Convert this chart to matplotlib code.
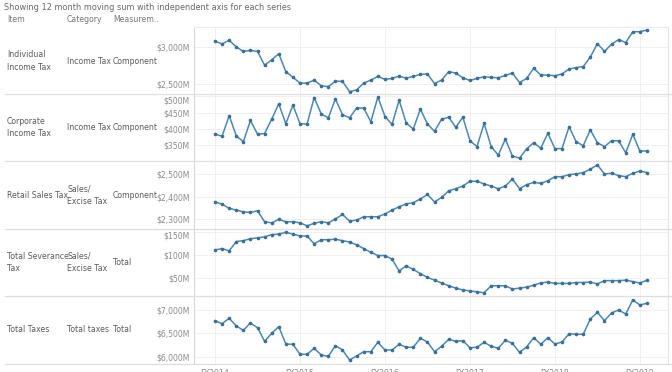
import matplotlib
matplotlib.use("Agg")
import matplotlib.pyplot as plt
from matplotlib.lines import Line2D
from matplotlib.ticker import FuncFormatter

# monthly points, FY2014 month 1 .. FY2019 month 2 (12 month moving sums, $M)
individual_income = [3083, 3046, 3097, 3005, 2944, 2958, 2944, 2754, 2829, 2912,
                     2667, 2590, 2510, 2510, 2551, 2472, 2463, 2537, 2533, 2393,
                     2417, 2510, 2551, 2602, 2560, 2574, 2606, 2577, 2602, 2630,
                     2634, 2504, 2551, 2667, 2648, 2583, 2546, 2574, 2597, 2588,
                     2583, 2616, 2648, 2518, 2574, 2713, 2620, 2620, 2611, 2634,
                     2704, 2722, 2736, 2866, 3051, 2944, 3042, 3106, 3065, 3213,
                     3213, 3236]
corporate_income = [384, 378, 441, 379, 361, 426, 384, 386, 430, 477,
                    416, 473, 416, 415, 496, 446, 434, 492, 444, 434,
                    464, 464, 422, 498, 438, 414, 488, 418, 400, 461,
                    415, 393, 430, 436, 405, 436, 364, 346, 417, 346,
                    320, 369, 317, 311, 339, 358, 341, 387, 340, 340,
                    407, 361, 349, 397, 358, 346, 364, 364, 327, 384,
                    332, 333]
retail_sales = [2377, 2367, 2349, 2341, 2333, 2331, 2338, 2290, 2285, 2300,
                2290, 2290, 2285, 2272, 2283, 2290, 2285, 2302, 2322, 2293,
                2297, 2312, 2312, 2312, 2324, 2341, 2356, 2368, 2374, 2390,
                2410, 2377, 2397, 2426, 2435, 2447, 2468, 2468, 2456, 2447,
                2435, 2447, 2478, 2435, 2453, 2463, 2459, 2470, 2488, 2488,
                2497, 2500, 2506, 2521, 2540, 2500, 2503, 2493, 2488, 2503,
                2513, 2506]
severance = [111, 114, 109, 129, 131, 135, 137, 139, 144, 145,
             149, 145, 141, 141, 124, 133, 133, 134, 131, 128,
             122, 114, 106, 99, 99, 91, 66, 77, 69, 60,
             52, 46, 40, 34, 29, 25, 23, 21, 19, 34,
             34, 34, 27, 29, 31, 35, 40, 42, 39, 39,
             39, 41, 41, 42, 38, 45, 45, 45, 46, 43,
             40, 46]
total_taxes = [6770, 6706, 6822, 6657, 6564, 6721, 6620, 6328, 6500, 6642,
               6270, 6264, 6049, 6049, 6178, 6034, 6006, 6234, 6142, 5927,
               6013, 6105, 6105, 6307, 6142, 6142, 6264, 6200, 6200, 6393,
               6313, 6105, 6221, 6371, 6328, 6341, 6191, 6200, 6307, 6221,
               6178, 6350, 6285, 6092, 6206, 6406, 6264, 6406, 6270, 6313,
               6491, 6479, 6479, 6807, 6951, 6770, 6936, 7000, 6914, 7215,
               7107, 7144]

items = ["Individual\nIncome Tax", "Corporate\nIncome Tax", "Retail Sales Tax",
         "Total Severance\nTax", "Total Taxes"]
categories = ["Income Tax", "Income Tax", "Sales/\nExcise Tax", "Sales/\nExcise Tax", "Total taxes"]
measures = ["Component", "Component", "Component", "Total", "Total"]
series = [individual_income, corporate_income, retail_sales, severance, total_taxes]
yticks = [[2500, 3000], [350, 400, 450, 500], [2300, 2400, 2500], [50, 100, 150],
          [6000, 6500, 7000]]
ylims = [(2361, 3264), (302, 507), (2258, 2557), (12, 156), (5841, 7300)]
year_labels = ["FY2014", "FY2015", "FY2016", "FY2017", "FY2018", "FY2019"]

W, H = 672, 372
fig = plt.figure(figsize=(W / 100, H / 100), dpi=100)
fig.patch.set_facecolor("white")

line_col = "#4a88b6"
grid_col = "#f0f0f0"
text_col = "#5a5a5a"
tick_col = "#8a8a8a"
fs = 5.6

fig.text(4 / W, 1 - 7 / H, "Showing 12 month moving sum with independent axis for each series",
         fontsize=5.9, color="#666666", va="center", ha="left")
for xp, t in [(7, "Item"), (67, "Category"), (113, "Measurem..")]:
    fig.text(xp / W, 1 - 20 / H, t, fontsize=fs, color="#777777", va="center", ha="left")

bounds = [28, 94, 161, 229, 296, 364]
left, right = 194, 668
fmt = FuncFormatter(lambda v, p: "${:,.0f}M".format(v))
x = list(range(len(total_taxes)))

for r in range(5):
    top, bot = bounds[r], bounds[r + 1]
    ax = fig.add_axes([left / W, 1 - bot / H, (right - left) / W, (bot - top) / H])
    ax.plot(x, series[r], color=line_col, lw=1.1, marker="o", ms=1.6,
            mfc="#3a6f96", mec="#3a6f96", zorder=3)
    ax.set_xlim(-2.97, 63.97)
    ax.set_ylim(*ylims[r])
    ax.set_yticks(yticks[r])
    ax.yaxis.set_major_formatter(fmt)
    ax.set_xticks([0, 12, 24, 36, 48, 60])
    ax.grid(True, color=grid_col, lw=0.7)
    ax.set_axisbelow(True)
    ax.tick_params(axis="y", length=0, labelsize=fs, labelcolor=tick_col, pad=3)
    ax.tick_params(axis="x", length=0, labelsize=fs, labelcolor=tick_col, pad=3.5)
    if r in (1, 3):
        # top label pushed inside the row, like the original
        ax.yaxis.get_major_ticks()[-1].label1.set_verticalalignment("top")
    if r == 4:
        ax.set_xticklabels(year_labels)
    else:
        ax.set_xticklabels([])
    for s in ["top", "bottom"]:
        ax.spines[s].set_visible(False)
    ax.spines["left"].set_color("#d6d6d6")
    ax.spines["right"].set_color("#e4e4e4")
    ax.spines["left"].set_linewidth(0.8)
    ax.spines["right"].set_linewidth(0.8)

    yc = 1 - (top + bot) / 2 / H
    fig.text(7 / W, yc, items[r], fontsize=fs, color=text_col, va="center", ha="left",
             linespacing=1.5)
    fig.text(67 / W, yc, categories[r], fontsize=fs, color=text_col, va="center", ha="left",
             linespacing=1.5)
    fig.text(113 / W, yc, measures[r], fontsize=fs, color=text_col, va="center", ha="left")

# row separators
for b in bounds[1:]:
    fig.add_artist(Line2D([5 / W, 1], [1 - b / H, 1 - b / H], color="#dedede", lw=0.9))
fig.add_artist(Line2D([left / W, right / W], [1 - 27 / H, 1 - 27 / H], color="#ececec", lw=0.8))

fig.savefig("out.png", dpi=100)
